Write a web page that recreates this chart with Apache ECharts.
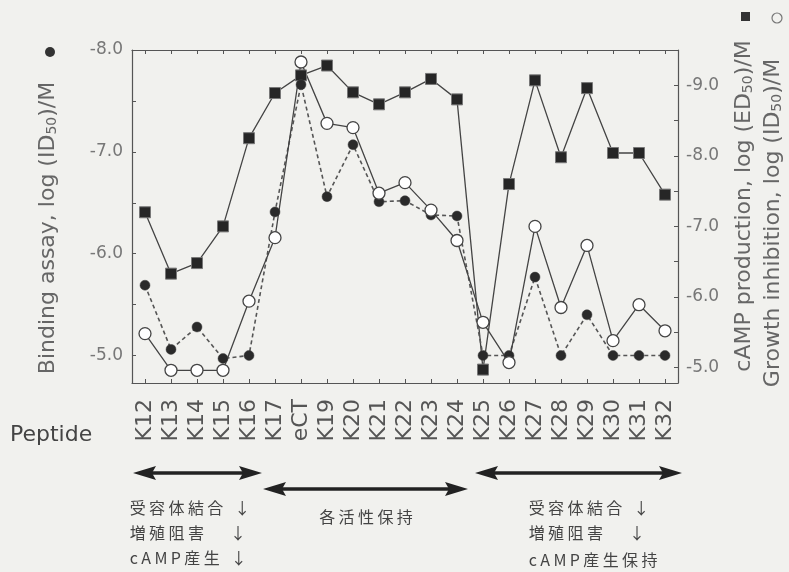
<!DOCTYPE html>
<html>
<head>
<meta charset="utf-8">
<script src="https://cdn.jsdelivr.net/npm/echarts@6/dist/echarts.min.js"></script>
<style>
html, body { margin: 0; padding: 0; background: #f1f1ee; }
#chart { width: 789px; height: 572px; }
</style>
</head>
<body>
<div id="chart"></div>
<script>
const peptides = ['K12', 'K13', 'K14', 'K15', 'K16', 'K17', 'eCT', 'K19', 'K20', 'K21', 'K22',
  'K23', 'K24', 'K25', 'K26', 'K27', 'K28', 'K29', 'K30', 'K31', 'K32'];
// ● binding assay, log(ID50)/M  (left axis)
const bindingAssay = [-5.69, -5.06, -5.28, -4.97, -5.0, -6.41, -7.66, -6.56, -7.07, -6.51, -6.52,
  -6.38, -6.37, -5.0, -5.0, -5.77, -5.0, -5.4, -5.0, -5.0, -5.0];
// ■ cAMP production, log(ED50)/M  (right axis)
const campProduction = [-7.2, -6.33, -6.48, -7.0, -8.25, -8.89, -9.14, -9.28, -8.9, -8.73, -8.9,
  -9.09, -8.8, -4.97, -7.6, -9.07, -7.98, -8.96, -8.04, -8.04, -7.45];
// ○ growth inhibition, log(ID50)/M  (right axis)
const growthInhibition = [-5.48, -4.96, -4.96, -4.96, -5.94, -6.84, -9.33, -8.46, -8.4, -7.47, -7.62,
  -7.23, -6.8, -5.64, -5.07, -7.0, -5.85, -6.73, -5.38, -5.89, -5.52];
const leftTicks = [-8, -7, -6, -5];
const rightTicks = [-9, -8, -7, -6, -5];

const FONT = '"DejaVu Sans", sans-serif';
const JP = '"Noto Sans CJK JP", sans-serif';
const ink = '#333';

const chart = echarts.init(document.getElementById('chart'));

const dblArrow = (x1, x2, y) => {
  const h = 23, w = 7;
  return [
    { type: 'line', shape: { x1: x1 + h - 4, y1: y, x2: x2 - h + 4, y2: y }, style: { stroke: '#222', lineWidth: 3.5 } },
    { type: 'polygon', shape: { points: [[x1, y], [x1 + h, y - w], [x1 + h - 4, y], [x1 + h, y + w]] }, style: { fill: '#222' } },
    { type: 'polygon', shape: { points: [[x2, y], [x2 - h, y - w], [x2 - h + 4, y], [x2 - h, y + w]] }, style: { fill: '#222' } }
  ];
};
// spread the characters a little, as in the printed figure
const spaced = s => s.split('').map(ch => ch === ' ' ? '{g| }' : '{c|' + ch + '}').join('');
const note = (x, y, text, align) => ({
  type: 'text', x: x, y: y,
  style: {
    text: spaced(text), align: align || 'left', verticalAlign: 'middle',
    rich: {
      c: { fontFamily: JP, fontSize: 16, fill: '#444', padding: [0, 1.7, 0, 1.7] },
      g: { fontFamily: JP, fontSize: 16, padding: [0, 2, 0, 2] }
    }
  }
});
const subRich = { sub: { fontSize: 14, padding: [8, 0, 0, 0], fontFamily: FONT, fill: '#666' } };
const title = (x, y, text) => ({
  type: 'text', x: x, y: y, rotation: Math.PI / 2,
  style: { text: text, rich: subRich, fontFamily: FONT, fontSize: 22, fill: '#666', align: 'center', verticalAlign: 'middle' }
});

const axisLine = { show: true, lineStyle: { color: '#555', width: 1.2 } };
const inTick = { show: true, inside: true, length: 4, lineStyle: { color: '#555' } };

chart.setOption({
  backgroundColor: '#f1f1ee',
  animation: false,
  grid: { left: 132, right: 111, top: 50, bottom: 189, outerBoundsMode: 'none' },
  xAxis: [{
    type: 'category',
    data: peptides,
    position: 'bottom',
    axisLine: axisLine,
    axisTick: Object.assign({ alignWithLabel: true, interval: 0 }, inTick),
    axisLabel: { interval: 0, rotate: 90, margin: 16, fontSize: 22, color: '#555', fontFamily: FONT }
  }, {
    type: 'category',
    data: peptides,
    position: 'top',
    axisLine: axisLine,
    axisTick: Object.assign({ alignWithLabel: true, interval: 0 }, inTick),
    axisLabel: { show: false }
  }],
  yAxis: [{
    type: 'value',
    position: 'left',
    inverse: true,
    min: -8, max: -4.73, interval: 0.5,
    axisLine: axisLine,
    axisTick: inTick,
    splitLine: { show: false },
    axisLabel: {
      margin: 9, fontSize: 17, color: '#777', fontFamily: FONT,
      formatter: v => leftTicks.includes(v) ? v.toFixed(1) : ''
    }
  }, {
    type: 'value',
    position: 'right',
    inverse: true,
    min: -9.5, max: -4.78, interval: 0.5,
    axisLine: axisLine,
    axisTick: inTick,
    splitLine: { show: false },
    axisLabel: {
      margin: 8, fontSize: 17, color: '#777', fontFamily: FONT,
      formatter: v => rightTicks.includes(v) ? v.toFixed(1) : ''
    }
  }],
  series: [{
    name: 'cAMP production',
    type: 'line',
    yAxisIndex: 1,
    data: campProduction,
    symbol: 'rect',
    symbolSize: 11,
    itemStyle: { color: '#262626', borderColor: '#777', borderWidth: 1 },
    lineStyle: { color: '#444', width: 1.3 }
  }, {
    name: 'Binding assay',
    type: 'line',
    yAxisIndex: 0,
    data: bindingAssay,
    symbol: 'circle',
    symbolSize: 10,
    itemStyle: { color: '#2a2a2a', borderColor: '#444', borderWidth: 0.5 },
    lineStyle: { color: '#555', width: 1.6, type: [4, 3] }
  }, {
    name: 'Growth inhibition',
    type: 'line',
    yAxisIndex: 1,
    data: growthInhibition,
    symbol: 'circle',
    symbolSize: 12,
    itemStyle: { color: '#fff', borderColor: '#444', borderWidth: 1.3 },
    lineStyle: { color: '#444', width: 1.3 }
  }],
  graphic: [
    title(48, 228, 'Binding assay, log (ID{sub|50})/M'),
    title(744, 206, 'cAMP production, log (ED{sub|50})/M'),
    title(773, 223, 'Growth inhibition, log (ID{sub|50})/M'),
    { type: 'circle', shape: { cx: 50, cy: 52, r: 5 }, style: { fill: ink } },
    { type: 'rect', shape: { x: 741, y: 12, width: 9, height: 9 }, style: { fill: ink } },
    { type: 'circle', shape: { cx: 777, cy: 18, r: 5 }, style: { fill: 'none', stroke: '#777', lineWidth: 1.2 } },
    { type: 'text', x: 10, y: 435, style: { text: 'Peptide', fontFamily: FONT, fontSize: 22, fill: '#444', verticalAlign: 'middle' } },
    ...dblArrow(133, 262, 473),
    ...dblArrow(263, 468, 489),
    ...dblArrow(475, 682, 473),
    note(128, 508, '受容体結合 ↓'),
    note(128, 533, '増殖阻害   ↓'),
    note(128, 558, 'cAMP産生 ↓'),
    note(366, 517, '各活性保持', 'center'),
    note(527, 508, '受容体結合 ↓'),
    note(527, 533, '増殖阻害   ↓'),
    note(527, 560, 'cAMP産生保持')
  ]
});
</script>
</body>
</html>
